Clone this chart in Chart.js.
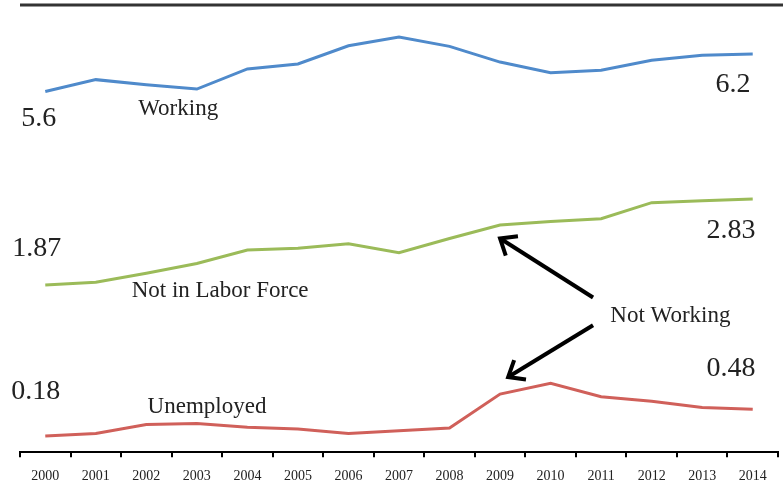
<!DOCTYPE html>
<html>
<head>
<meta charset="utf-8">
<script src="https://cdn.jsdelivr.net/npm/chart.js@4/dist/chart.umd.min.js"></script>
<style>
  html, body { margin: 0; padding: 0; background: #fff; }
  #wrap { width: 783px; height: 497px; position: relative; }
</style>
</head>
<body>
<div id="wrap"><canvas id="laborChart"></canvas></div>
<script>
// 年份與三條序列
const years = ['2000', '2001', '2002', '2003', '2004', '2005', '2006', '2007',
               '2008', '2009', '2010', '2011', '2012', '2013', '2014'];
const working = [5.60, 5.79, 5.71, 5.64, 5.96, 6.04, 6.33, 6.47, 6.32, 6.07, 5.90, 5.94, 6.10, 6.18, 6.20];
const notInLaborForce = [1.87, 1.90, 2.00, 2.11, 2.26, 2.28, 2.33, 2.23, 2.39, 2.54, 2.58, 2.61, 2.79, 2.81, 2.83];
const unemployed = [0.18, 0.21, 0.31, 0.32, 0.28, 0.26, 0.21, 0.24, 0.27, 0.65, 0.77, 0.62, 0.57, 0.50, 0.48];

const SERIF = "'Liberation Serif', 'Times New Roman', serif";

// 文字標註:x 為年份索引,y 為主軸數值
const notes = [
    { text: '5.6', x: -0.13, y: 3.65, size: 28 },
    { text: 'Working', x: 2.63, y: 3.77, size: 23 },
    { text: '6.2', x: 13.61, y: 4.03, size: 28 },
    { text: '1.87', x: -0.17, y: 2.19, size: 28 },
    { text: 'Not in Labor Force', x: 3.46, y: 1.73, size: 23 },
    { text: '2.83', x: 13.57, y: 2.40, size: 28 },
    { text: 'Not Working', x: 12.37, y: 1.46, size: 23 },
    { text: '0.18', x: -0.19, y: 0.60, size: 28 },
    { text: 'Unemployed', x: 3.20, y: 0.435, size: 23 },
    { text: '0.48', x: 13.57, y: 0.85, size: 28 }
];

// 箭頭:由 Not Working 指向兩條線
const arrows = [
    { from: [10.84, 1.73], to: [9.0, 2.39] },
    { from: [10.84, 1.42], to: [9.16, 0.84] }
];

// 上方粗線
const topRule = {
    id: 'topRule',
    afterDraw(chart) {
        const ctx = chart.ctx;
        const area = chart.chartArea;
        ctx.save();
        ctx.strokeStyle = '#333';
        ctx.lineWidth = 3;
        ctx.beginPath();
        ctx.moveTo(area.left, area.top);
        ctx.lineTo(chart.width, area.top);
        ctx.stroke();
        ctx.restore();
    }
};

// 標註文字與箭頭
const annotations = {
    id: 'annotations',
    afterDraw(chart) {
        const ctx = chart.ctx;
        const xs = chart.scales.x;
        const ys = chart.scales.y;
        ctx.save();
        ctx.fillStyle = '#222';
        ctx.textAlign = 'center';
        ctx.textBaseline = 'alphabetic';
        notes.forEach(n => {
            ctx.font = n.size + 'px ' + SERIF;
            ctx.fillText(n.text, xs.getPixelForValue(n.x), ys.getPixelForValue(n.y));
        });

        ctx.strokeStyle = '#000';
        ctx.lineWidth = 4;
        ctx.lineCap = 'butt';
        arrows.forEach(a => {
            const x1 = xs.getPixelForValue(a.from[0]);
            const y1 = ys.getPixelForValue(a.from[1]);
            const x2 = xs.getPixelForValue(a.to[0]);
            const y2 = ys.getPixelForValue(a.to[1]);
            const ang = Math.atan2(y2 - y1, x2 - x1);
            const head = 18;
            const spread = Math.PI / 4.6;
            ctx.beginPath();
            ctx.moveTo(x1, y1);
            ctx.lineTo(x2 - Math.cos(ang) * 2, y2 - Math.sin(ang) * 2);
            ctx.stroke();
            ctx.beginPath();
            ctx.moveTo(x2 - head * Math.cos(ang - spread), y2 - head * Math.sin(ang - spread));
            ctx.lineTo(x2, y2);
            ctx.lineTo(x2 - head * Math.cos(ang + spread), y2 - head * Math.sin(ang + spread));
            ctx.stroke();
        });
        ctx.restore();
    }
};

function createLaborChart() {
    const ctx = document.getElementById('laborChart').getContext('2d');
    new Chart(ctx, {
        type: 'line',
        data: {
            labels: years,
            datasets: [
                { label: 'Working', data: working, yAxisID: 'yW', borderColor: '#4F8ACB' },
                { label: 'Not in Labor Force', data: notInLaborForce, yAxisID: 'y', borderColor: '#9BBB59' },
                { label: 'Unemployed', data: unemployed, yAxisID: 'y', borderColor: '#D0605A' }
            ]
        },
        options: {
            responsive: true,
            maintainAspectRatio: false,
            animation: false,
            layout: { padding: { left: 20, right: 5, top: 5, bottom: 1 } },
            elements: {
                line: { borderWidth: 3, tension: 0, borderJoinStyle: 'miter' },
                point: { radius: 0 }
            },
            plugins: {
                legend: { display: false },
                tooltip: { enabled: false }
            },
            scales: {
                x: {
                    offset: true,
                    grid: {
                        offset: true,
                        drawOnChartArea: false,
                        color: '#000',
                        lineWidth: 2,
                        tickLength: 5
                    },
                    border: { color: '#000', width: 2 },
                    ticks: {
                        color: '#222',
                        padding: 11,
                        maxRotation: 0,
                        autoSkip: false,
                        font: { family: SERIF, size: 14 }
                    }
                },
                y: { display: false, min: 0, max: 5 },
                yW: { display: false, min: -0.15, max: 6.98 }
            }
        },
        plugins: [topRule, annotations]
    });
}

document.addEventListener('DOMContentLoaded', createLaborChart);
</script>
</body>
</html>
